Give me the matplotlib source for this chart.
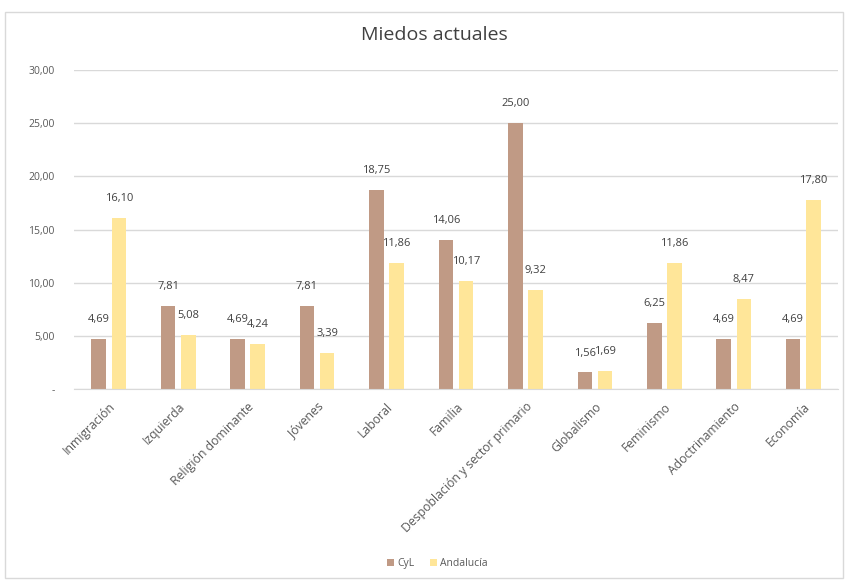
import matplotlib
matplotlib.use("Agg")
import matplotlib.pyplot as plt
from matplotlib.patches import Rectangle
import numpy as np

plt.rcParams["font.family"] = ["Open Sans", "DejaVu Sans"]

categories = [
    "Inmigración", "Izquierda", "Religión dominante", "Jóvenes", "Laboral",
    "Familia", "Despoblación y sector primario", "Globalismo", "Feminismo",
    "Adoctrinamiento", "Economía",
]
cyl = [4.69, 7.81, 4.69, 7.81, 18.75, 14.06, 25.00, 1.56, 6.25, 4.69, 4.69]
andalucia = [16.10, 5.08, 4.24, 3.39, 11.86, 10.17, 9.32, 1.69, 11.86, 8.47, 17.80]
yticks = [0, 5, 10, 15, 20, 25, 30]


def fmt(v):
    return f"{v:.2f}".replace(".", ",")


fig = plt.figure(figsize=(8.46, 5.82), dpi=100)
ax = fig.add_axes([0.0875, 0.3316, 0.903, 0.548])

x = np.arange(len(categories))
w = 0.21
off = 0.145
b1 = ax.bar(x - off, cyl, w, color="#C09A85", label="CyL", zorder=2)
b2 = ax.bar(x + off, andalucia, w, color="#FFE699", label="Andalucía", zorder=2)

for bars, vals in ((b1, cyl), (b2, andalucia)):
    for r, v in zip(bars, vals):
        ax.annotate(fmt(v), (r.get_x() + r.get_width() / 2, v),
                    xytext=(0, 10), textcoords="offset points",
                    ha="center", va="bottom", fontsize=8, color="#404040")

ax.set_xlim(-0.5, len(categories) - 0.5)
ax.set_ylim(0, 30)
ax.set_yticks(yticks)
ax.set_yticklabels(["-"] + [fmt(t) for t in yticks[1:]], fontsize=7.5,
                   color="#595959")
ax.tick_params(axis="y", length=0, pad=14)
ax.set_xticks(x)
ax.set_xticklabels(categories, rotation=45, ha="right", rotation_mode="anchor",
                   fontsize=8.8, color="#595959")
ax.tick_params(axis="x", length=0, pad=8)
ax.grid(axis="y", color="#D9D9D9", linewidth=1, zorder=0)
for s in ("top", "right", "left"):
    ax.spines[s].set_visible(False)
ax.spines["bottom"].set_color("#D9D9D9")

fig.text(0.513, 0.94, "Miedos actuales", ha="center", va="center",
         fontsize=14, color="#404040")

fig.legend(handles=[b1, b2], loc="center", bbox_to_anchor=(0.517, 0.032),
           ncol=2, frameon=False, fontsize=7.5, labelcolor="#595959",
           handlelength=0.7, handleheight=0.7, handletextpad=0.3,
           columnspacing=1.5)

fig.patches.append(Rectangle((0.006, 0.007), 0.99, 0.972,
                             transform=fig.transFigure, fill=False,
                             edgecolor="#D9D9D9", linewidth=1))

fig.savefig("out.png", dpi=100, facecolor="white")
